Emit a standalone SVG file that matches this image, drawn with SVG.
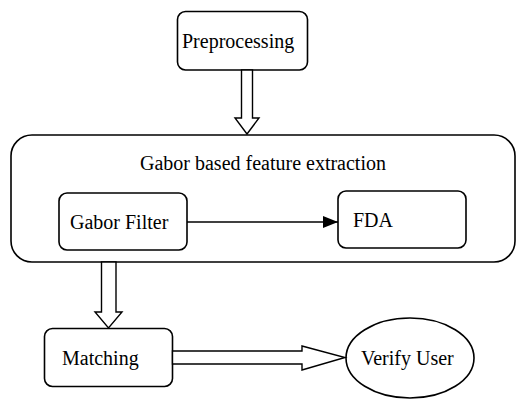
<svg xmlns="http://www.w3.org/2000/svg" width="520" height="399" viewBox="0 0 520 399">
<style>
.box{fill:#fff;stroke:#000;stroke-width:1.6}
.blk{fill:#fff;stroke:#000;stroke-width:1.4;stroke-linejoin:miter}
.ln{fill:none;stroke:#000;stroke-width:1.4}
text{font-family:"Liberation Serif","Times New Roman",serif;font-size:20px;fill:#000}
</style>
<defs>
<marker id="tri" viewBox="0 0 15 12" refX="15" refY="6" markerWidth="15" markerHeight="12" markerUnits="userSpaceOnUse" orient="auto">
<path d="M0,0 L15,6 L0,12 Z" fill="#000"/>
</marker>
</defs>
<rect width="520" height="399" fill="#fff"/>
<g id="extraction">
<rect class="box" x="11" y="135" width="504" height="127" rx="21"/>
<text x="140" y="170">Gabor based feature extraction</text>
</g>
<g id="preprocessing">
<rect class="box" x="177.5" y="11.5" width="130" height="58.5" rx="8"/>
<text x="182" y="48">Preprocessing</text>
</g>
<g id="gabor-filter">
<rect class="box" x="59" y="193" width="128" height="57" rx="8"/>
<text x="70" y="229">Gabor Filter</text>
</g>
<g id="fda">
<rect class="box" x="338" y="191" width="128" height="57" rx="8"/>
<text x="353" y="227">FDA</text>
</g>
<g id="matching">
<rect class="box" x="44.5" y="328.5" width="128" height="58" rx="8"/>
<text x="62" y="365">Matching</text>
</g>
<g id="verify-user">
<ellipse class="box" cx="410" cy="358" rx="64" ry="40"/>
<text x="361" y="365">Verify User</text>
</g>
<g id="connectors">
<polygon class="blk" points="241.5,70 252.5,70 252.5,118 259,118 247,134 235,118 241.5,118"/>
<polygon class="blk" points="101.5,262 116,262 116,312 122,312 108.5,328 95,312 101.5,312"/>
<polygon class="blk" points="172.5,351 302,351 302,346 345,357.5 302,370 302,364 172.5,364"/>
<line class="ln" x1="187" y1="222" x2="338" y2="222" marker-end="url(#tri)"/>
</g>
</svg>
